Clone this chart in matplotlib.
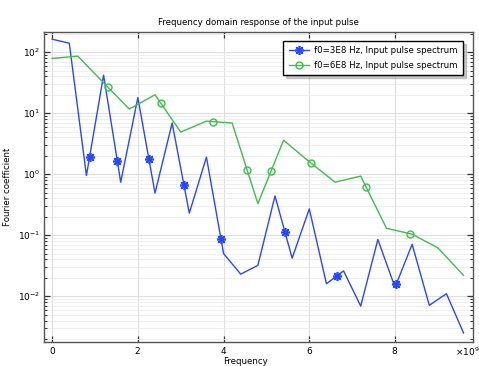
import numpy as np
import matplotlib
matplotlib.use("Agg")
import matplotlib.pyplot as plt
from matplotlib.lines import Line2D
from matplotlib.ticker import ScalarFormatter, LogLocator

# ---- data ----
freq_blue = np.arange(25) * 0.4e9
coef_blue = [163, 140, 0.95, 42, 0.74, 18, 0.49, 6.9, 0.23, 1.9, 0.050, 0.023,
             0.032, 0.44, 0.042, 0.27, 0.016, 0.026, 0.0069, 0.085, 0.014,
             0.071, 0.0071, 0.011, 0.0025]
freq_green = np.arange(17) * 0.6e9
coef_green = [79, 86, 31.5, 11.7, 20, 4.9, 7.4, 6.9, 0.33, 3.6, 1.6, 0.74,
              0.93, 0.13, 0.104, 0.062, 0.022]
labels = ["f0=3E8 Hz, Input pulse spectrum", "f0=6E8 Hz, Input pulse spectrum"]
title = "Frequency domain response of the input pulse"
xlabel = "Frequency"
ylabel = "Fourier coefficient"
offset_label = r"$\times10^{9}$"

blue = "#2748ff"
green = "#3dbf4a"
FS = 6.2

W, H = 479, 366
fig = plt.figure(figsize=(W / 100, H / 100), dpi=100)
ax = fig.add_axes([44 / W, 1 - 342 / H, (473 - 44) / W, (342 - 32) / H])
ax.set_yscale("log")
ax.set_xlim(-0.19e9, 9.82e9)
ax.set_ylim(10 ** -2.75, 10 ** 2.33)

ax.plot(freq_blue, coef_blue, color=blue, lw=1.0, zorder=3)
ax.plot(freq_green, coef_green, color=green, lw=1.0, zorder=3)


def markers_along(x, y, n):
    pts = ax.transData.transform(np.column_stack([x, y]))
    seg = np.hypot(np.diff(pts[:, 0]), np.diff(pts[:, 1]))
    cum = np.concatenate([[0], np.cumsum(seg)])
    L = cum[-1]
    targets = L * np.arange(1, n + 1) / (n + 1)
    mx = np.interp(targets, cum, pts[:, 0])
    my = np.interp(targets, cum, pts[:, 1])
    return ax.transData.inverted().transform(np.column_stack([mx, my]))


bstyle = dict(marker=(8, 2, 0), ms=6.5, mew=1.2)
gstyle = dict(marker="o", ms=5, mew=1.0, mfc="none")
bm = markers_along(freq_blue, coef_blue, 8)
gm = markers_along(freq_green, coef_green, 8)
ax.plot(bm[:, 0], bm[:, 1], ls="none", color=blue, zorder=4, **bstyle)
ax.plot(gm[:, 0], gm[:, 1], ls="none", color=green, mec=green, zorder=4, **gstyle)

# axes styling
ax.set_xticks(np.arange(0, 9, 2) * 1e9)
fmt = ScalarFormatter(useMathText=True)
fmt.set_powerlimits((0, 0))
ax.xaxis.set_major_formatter(fmt)
ax.xaxis.get_offset_text().set_visible(False)
ax.text((455 - 44) / (473 - 44), -0.010, offset_label, transform=ax.transAxes,
        ha="left", va="top", fontsize=FS + 0.3)
ax.yaxis.set_major_locator(LogLocator(base=10, numticks=10))
ax.yaxis.set_minor_locator(LogLocator(base=10, subs=np.arange(2, 10), numticks=20))
ax.grid(True, which="major", color="#dedede", lw=0.8, zorder=0)
ax.grid(True, which="minor", axis="y", color="#ececec", lw=0.6, zorder=0)
ax.tick_params(which="both", direction="in", top=True, right=True,
               labelsize=FS + 0.3, color="#333333")
ax.tick_params(which="major", length=4, width=0.9, pad=3)
ax.tick_params(axis="x", which="major", pad=2)
ax.tick_params(which="minor", length=2.5, width=0.7)
for s in ax.spines.values():
    s.set_color("#555555")
    s.set_linewidth(1.0)

ax.set_title(title, fontsize=FS, pad=5)
ax.set_xlabel(xlabel, fontsize=FS)
ax.set_ylabel(ylabel, fontsize=FS)
ax.xaxis.set_label_coords((245 - 44) / (473 - 44), -(356.5 - 342) / (342 - 32))
ax.yaxis.set_label_coords(-(44 - 12) / (473 - 44), 0.5)

handles = [
    Line2D([], [], color=blue, lw=1.0, **bstyle),
    Line2D([], [], color=green, lw=1.0, **gstyle),
]
leg = ax.legend(handles, labels, loc="upper right", fontsize=FS,
                fancybox=False, shadow={"ox": 2, "oy": -2, "color": "#999999"},
                edgecolor="black", framealpha=1,
                bbox_to_anchor=(1 - (473 - 463) / 429, 1 - (41 - 32) / 310),
                borderaxespad=0, handlelength=2.4, handletextpad=0.6,
                borderpad=0.6, labelspacing=0.7)
leg.get_frame().set_linewidth(1.0)

fig.savefig("out.png", dpi=100)
